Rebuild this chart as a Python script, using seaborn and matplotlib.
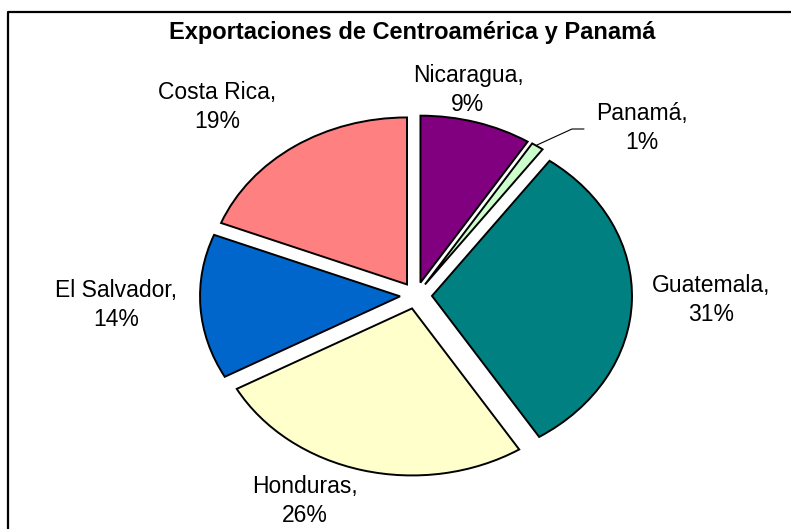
import matplotlib
matplotlib.use("Agg")
import matplotlib.pyplot as plt
from matplotlib.lines import Line2D
import seaborn as sns

sns.set_theme(style="white")
plt.rcParams['font.family'] = ['Liberation Sans', 'DejaVu Sans']
plt.rcParams['text.color'] = 'black'

# data
paises = ['Nicaragua', 'Panamá', 'Guatemala', 'Honduras', 'El Salvador', 'Costa Rica']
porcentajes = [9, 1, 31, 26, 14, 19]
colores = ['#800080', '#CCFFCC', '#008080', '#FFFFCC', '#0066CC', '#FF8080']
titulo = 'Exportaciones de Centroamérica y Panamá'

# label positions in pixels (layout only)
pos_etiquetas = [(468, 90), (642, 128), (711, 300), (305, 501), (116, 305), (217, 107)]

W, H = 791, 529
fig = plt.figure(figsize=(W / 100, H / 100), dpi=100)

def px(x, y):
    return x / W, 1 - y / H

# pie axes: one data unit = rx pixels horizontally, ry pixels vertically
cx, cy, rx, ry = 416, 295.5, 200, 167
ax = fig.add_axes([0, 0, 1, 1])
ax.pie(porcentajes, colors=colores, startangle=90, counterclock=False,
       explode=[0.08] * len(porcentajes),
       wedgeprops=dict(edgecolor='black', linewidth=1.4))
ax.set_aspect('auto')
ax.set_xlim(-cx / rx, (W - cx) / rx)
ax.set_ylim((cy - H) / ry, cy / ry)
ax.axis('off')

# labels
for pais, pct, (x, y) in zip(paises, porcentajes, pos_etiquetas):
    fx, fy = px(x, y)
    fig.text(fx, fy, f'{pais},\n{pct}%', ha='center', va='center',
             fontsize=16.5, linespacing=1.3, color='black')

# leader line for Panamá
lx = [537, 572, 584]
ly = [145, 129, 129]
fig.add_artist(Line2D([x / W for x in lx], [1 - y / H for y in ly],
                      color='black', linewidth=0.8))

fig.text(*px(412, 33), titulo, ha='center', va='center',
         fontsize=17, fontweight='bold', color='black')

# chart area border (left and top visible)
fig.add_artist(Line2D([8 / W, 8 / W, 1.0], [0.0, 1 - 12 / H, 1 - 12 / H],
                      color='black', linewidth=1.6))

fig.savefig('out.png', dpi=100, facecolor='white')
